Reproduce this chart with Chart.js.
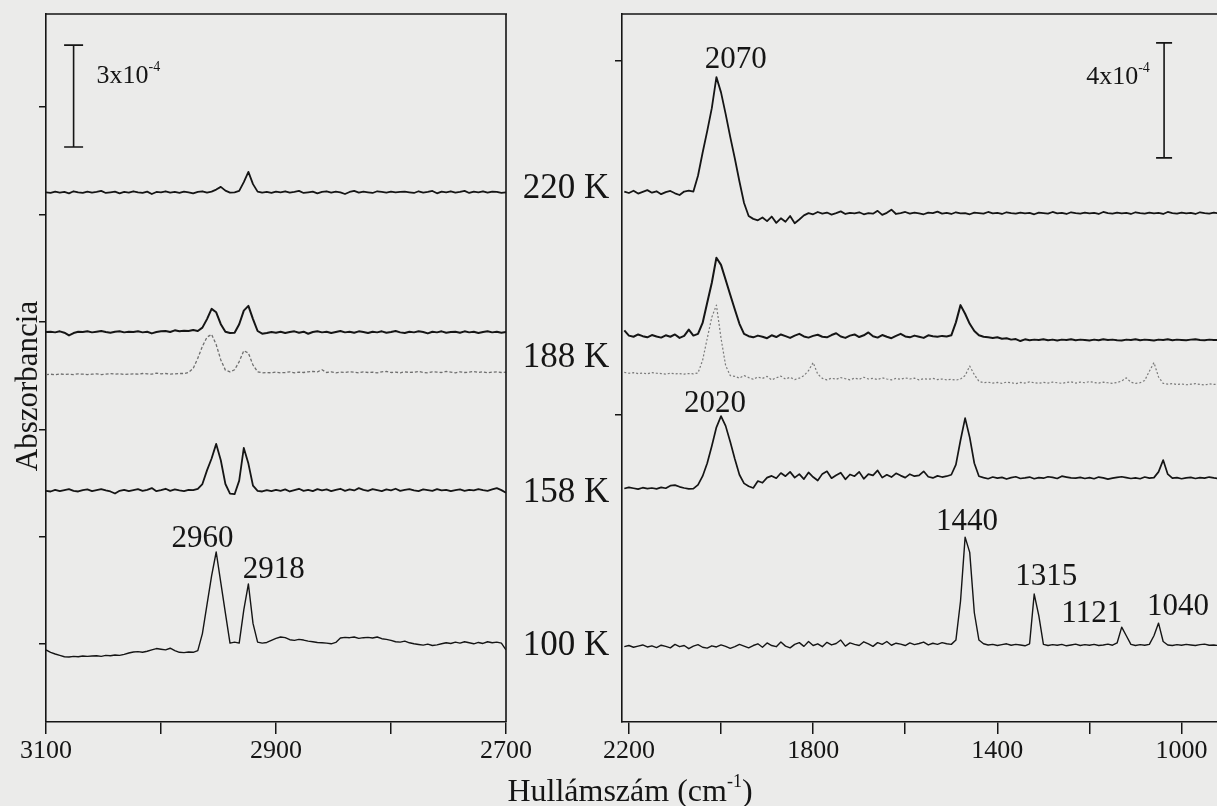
<!DOCTYPE html>
<html><head><meta charset="utf-8">
<script src="https://cdn.jsdelivr.net/npm/chart.js@4.4.1/dist/chart.umd.min.js"></script>
<style>
html,body{margin:0;padding:0;background:#ebebea;}
#wrap{position:relative;width:1217px;height:806px;overflow:hidden;background:#ebebea;}
canvas{position:absolute;left:0;top:0;}
</style></head><body>
<div id="wrap"><canvas id="cL" width="1217" height="806"></canvas><canvas id="cR" width="1217" height="806"></canvas></div>
<script>
// ---------- LEFT PANEL (3100-2700 cm-1), absorbance in 1e-4 units incl. offsets ----------
const wnL = [3100,3096,3092,3088,3084,3080,3076,3072,3068,3064,
3060,3056,3052,3048,3044,3040,3036,3032,3028,3024,
3020,3016,3012,3008,3004,3000,2996,2992,2988,2984,
2980,2976,2972,2968,2964,2960,2956,2952,2948,2944,
2940,2936,2932,2928,2924,2920,2916,2912,2908,2904,
2900,2896,2892,2888,2884,2880,2876,2872,2868,2864,
2860,2856,2852,2848,2844,2840,2836,2832,2828,2824,
2820,2816,2812,2808,2804,2800,2796,2792,2788,2784,
2780,2776,2772,2768,2764,2760,2756,2752,2748,2744,
2740,2736,2732,2728,2724,2720,2716,2712,2708,2704,
2700];
const absL220 = [15.58,15.56,15.60,15.57,15.59,15.55,15.61,15.58,15.56,15.60,
15.57,15.59,15.62,15.56,15.58,15.60,15.55,15.59,15.57,15.61,
15.58,15.56,15.60,15.53,15.59,15.58,15.61,15.57,15.59,15.56,
15.60,15.58,15.55,15.59,15.61,15.57,15.60,15.66,15.74,15.63,
15.57,15.58,15.62,15.88,16.18,15.82,15.60,15.57,15.59,15.56,
15.60,15.58,15.61,15.57,15.59,15.62,15.56,15.58,15.60,15.55,
15.59,15.61,15.57,15.60,15.58,15.53,15.59,15.62,15.57,15.60,
15.58,15.56,15.61,15.59,15.57,15.60,15.58,15.59,15.60,15.58,
15.56,15.61,15.57,15.59,15.62,15.55,15.60,15.58,15.61,15.57,
15.59,15.62,15.56,15.60,15.58,15.61,15.57,15.60,15.59,15.56,
15.58];
const absL188 = [11.47,11.48,11.46,11.49,11.45,11.37,11.44,11.48,11.47,11.49,
11.46,11.48,11.50,11.47,11.45,11.48,11.49,11.46,11.48,11.47,
11.49,11.46,11.48,11.43,11.47,11.49,11.50,11.47,11.52,11.49,
11.51,11.50,11.53,11.50,11.60,11.85,12.15,12.05,11.70,11.48,
11.44,11.45,11.70,12.10,12.24,11.85,11.50,11.42,11.44,11.47,
11.45,11.48,11.44,11.47,11.49,11.45,11.48,11.42,11.47,11.49,
11.46,11.48,11.44,11.47,11.50,11.46,11.48,11.45,11.49,11.47,
11.44,11.48,11.46,11.49,11.45,11.47,11.50,11.46,11.44,11.48,
11.46,11.49,11.47,11.43,11.48,11.46,11.49,11.45,11.47,11.48,
11.45,11.49,11.46,11.48,11.44,11.47,11.49,11.46,11.48,11.45,
11.47];
const absL188dot = [10.22,10.23,10.21,10.24,10.22,10.23,10.22,10.24,10.23,10.22,
10.23,10.24,10.22,10.23,10.25,10.23,10.24,10.22,10.23,10.24,
10.23,10.25,10.24,10.23,10.26,10.24,10.25,10.23,10.24,10.25,
10.25,10.28,10.40,10.70,11.05,11.32,11.40,11.10,10.65,10.35,
10.30,10.36,10.60,10.92,10.85,10.50,10.30,10.27,10.28,10.27,
10.29,10.27,10.28,10.30,10.27,10.29,10.28,10.30,10.31,10.30,
10.36,10.28,10.30,10.27,10.29,10.28,10.30,10.29,10.27,10.30,
10.28,10.29,10.27,10.30,10.31,10.28,10.29,10.27,10.30,10.28,
10.29,10.31,10.28,10.27,10.30,10.29,10.28,10.31,10.29,10.27,
10.30,10.28,10.29,10.31,10.28,10.30,10.27,10.29,10.30,10.28,
10.29];
const absL158 = [6.80,6.78,6.83,6.79,6.82,6.85,6.80,6.78,6.82,6.84,
6.79,6.82,6.85,6.81,6.78,6.72,6.80,6.83,6.79,6.82,
6.85,6.80,6.83,6.88,6.79,6.82,6.86,6.80,6.84,6.81,
6.79,6.83,6.82,6.86,7.00,7.40,7.75,8.18,7.70,7.00,
6.72,6.70,7.10,8.06,7.60,6.95,6.80,6.78,6.82,6.79,
6.83,6.80,6.84,6.78,6.82,6.86,6.80,6.83,6.79,6.85,
6.81,6.84,6.79,6.83,6.86,6.80,6.84,6.81,6.88,6.83,
6.80,6.85,6.82,6.79,6.84,6.81,6.86,6.80,6.83,6.85,
6.81,6.79,6.84,6.82,6.80,6.85,6.81,6.83,6.79,6.82,
6.84,6.80,6.83,6.81,6.85,6.82,6.80,6.84,6.88,6.82,
6.74];
const absL100 = [2.12,2.05,2.00,1.96,1.92,1.91,1.93,1.92,1.94,1.93,
1.94,1.95,1.93,1.96,1.95,1.97,1.96,1.99,2.03,2.06,
2.07,2.05,2.08,2.12,2.16,2.14,2.12,2.17,2.10,2.05,
2.04,2.06,2.05,2.10,2.60,3.45,4.30,5.00,4.10,3.20,
2.32,2.35,2.32,3.30,4.06,2.90,2.35,2.32,2.34,2.40,
2.46,2.50,2.48,2.42,2.40,2.43,2.41,2.38,2.36,2.34,
2.33,2.32,2.30,2.34,2.47,2.49,2.48,2.50,2.46,2.48,
2.49,2.47,2.50,2.45,2.43,2.40,2.36,2.35,2.38,2.33,
2.30,2.28,2.26,2.29,2.25,2.27,2.30,2.33,2.31,2.35,
2.32,2.36,2.33,2.30,2.34,2.31,2.36,2.33,2.35,2.32,
2.12];
const xTicksL = [3100,3000,2900,2800,2700];
const xLabelsL = [3100,2900,2700];
const yTicksL = [2.29,5.44,8.59,11.76,14.91,18.09];
const peakTextL = ['2960','2918'];
const peakAtL = [[2964,5.15],[2902,4.24]];
const barL = {wn:3076, from:16.91, to:19.91, textWn:3056, textY:18.79, base:'3x10', exp:'-4'};

// ---------- RIGHT PANEL (2200-~920 cm-1) ----------
const wnR = [2210,2200,2190,2180,2170,2160,2150,2140,2130,2120,
2110,2100,2090,2080,2070,2060,2050,2040,2030,2020,
2010,2000,1990,1980,1970,1960,1950,1940,1930,1920,
1910,1900,1890,1880,1870,1860,1850,1840,1830,1820,
1810,1800,1790,1780,1770,1760,1750,1740,1730,1720,
1710,1700,1690,1680,1670,1660,1650,1640,1630,1620,
1610,1600,1590,1580,1570,1560,1550,1540,1530,1520,
1510,1500,1490,1480,1470,1460,1450,1440,1430,1420,
1410,1400,1390,1380,1370,1360,1350,1340,1330,1320,
1310,1300,1290,1280,1270,1260,1250,1240,1230,1220,
1210,1200,1190,1180,1170,1160,1150,1140,1130,1120,
1110,1100,1090,1080,1070,1060,1050,1040,1030,1020,
1010,1000,990,980,970,960,950,940,930,920];
const absR220 = [18.45,18.40,18.48,18.38,18.44,18.50,18.41,18.46,18.36,18.43,
18.47,18.39,18.33,18.45,18.48,18.45,19.00,19.80,20.55,21.35,
22.43,21.90,21.15,20.35,19.60,18.80,18.05,17.60,17.50,17.45,
17.55,17.42,17.58,17.36,17.52,17.40,17.60,17.35,17.48,17.62,
17.70,17.66,17.74,17.68,17.72,17.65,17.70,17.76,17.67,17.71,
17.69,17.73,17.66,17.70,17.68,17.78,17.64,17.71,17.82,17.67,
17.70,17.74,17.68,17.72,17.69,17.66,17.72,17.70,17.75,17.68,
17.71,17.67,17.73,17.69,17.70,17.66,17.72,17.70,17.68,17.74,
17.69,17.71,17.67,17.73,17.70,17.68,17.72,17.69,17.71,17.66,
17.72,17.70,17.68,17.74,17.69,17.71,17.67,17.73,17.70,17.68,
17.72,17.69,17.71,17.67,17.74,17.70,17.68,17.72,17.69,17.71,
17.67,17.73,17.70,17.68,17.72,17.69,17.71,17.67,17.74,17.70,
17.68,17.72,17.69,17.71,17.67,17.73,17.70,17.68,17.72,17.69];
const absR188 = [13.62,13.44,13.40,13.48,13.42,13.38,13.46,13.41,13.37,13.45,
13.40,13.48,13.36,13.43,13.65,13.44,13.50,13.88,14.58,15.28,
16.15,15.90,15.38,14.86,14.35,13.85,13.50,13.42,13.38,13.44,
13.40,13.35,13.45,13.39,13.48,13.42,13.36,13.44,13.50,13.41,
13.37,13.43,13.47,13.40,13.38,13.46,13.52,13.41,13.36,13.44,
13.48,13.39,13.45,13.55,13.42,13.37,13.46,13.40,13.35,13.43,
13.50,13.41,13.38,13.44,13.40,13.36,13.45,13.42,13.40,13.43,
13.41,13.45,13.90,14.50,14.20,13.85,13.60,13.45,13.40,13.38,
13.36,13.38,13.33,13.35,13.30,13.32,13.25,13.31,13.28,13.30,
13.29,13.31,13.28,13.30,13.27,13.30,13.29,13.31,13.28,13.30,
13.29,13.27,13.30,13.28,13.31,13.29,13.30,13.28,13.27,13.30,
13.29,13.31,13.28,13.30,13.29,13.27,13.30,13.29,13.31,13.28,
13.30,13.29,13.28,13.30,13.31,13.29,13.28,13.30,13.29,13.28];
const absR188dot = [12.16,12.13,12.15,12.12,12.14,12.11,12.15,12.13,12.12,12.10,
12.13,12.11,12.12,12.10,12.12,12.11,12.14,12.58,13.34,14.08,
14.50,13.35,12.40,12.05,12.02,11.96,12.05,11.98,11.92,12.00,
11.95,12.02,11.90,11.97,12.03,11.93,11.99,11.91,11.96,12.05,
12.22,12.50,12.10,11.95,11.90,11.96,11.92,11.98,11.94,11.90,
11.96,11.92,11.99,11.93,11.95,11.91,11.97,11.93,11.90,11.95,
11.92,11.97,11.93,11.96,11.90,11.94,11.92,11.95,11.91,11.93,
11.90,11.92,11.89,11.93,12.05,12.38,12.08,11.85,11.80,11.82,
11.79,11.81,11.78,11.82,11.80,11.77,11.81,11.79,11.83,11.80,
11.78,11.81,11.79,11.82,11.80,11.78,11.81,11.83,11.79,11.82,
11.80,11.84,11.81,11.79,11.82,11.80,11.78,11.81,11.86,11.97,
11.82,11.78,11.80,11.88,12.20,12.50,12.00,11.78,11.75,11.77,
11.74,11.76,11.73,11.75,11.77,11.74,11.72,11.76,11.74,11.75];
const absR158 = [8.12,8.16,8.13,8.10,8.15,8.12,8.14,8.11,8.16,8.13,
8.22,8.24,8.18,8.14,8.11,8.12,8.25,8.55,9.00,9.60,
10.25,10.64,10.30,9.75,9.15,8.60,8.30,8.20,8.14,8.38,
8.32,8.50,8.56,8.48,8.66,8.55,8.70,8.50,8.62,8.45,
8.68,8.52,8.40,8.63,8.72,8.48,8.58,8.67,8.44,8.61,
8.55,8.70,8.46,8.62,8.58,8.75,8.50,8.60,8.52,8.65,
8.57,8.50,8.62,8.55,8.58,8.72,8.53,8.49,8.56,8.52,
8.55,8.60,8.95,9.80,10.57,9.90,9.00,8.55,8.50,8.46,
8.52,8.48,8.51,8.45,8.50,8.53,8.47,8.49,8.52,8.46,
8.50,8.48,8.53,8.51,8.47,8.55,8.52,8.49,8.48,8.51,
8.47,8.50,8.46,8.52,8.49,8.45,8.48,8.51,8.53,8.50,
8.47,8.49,8.46,8.52,8.48,8.50,8.70,9.11,8.62,8.48,
8.50,8.46,8.49,8.51,8.47,8.50,8.48,8.52,8.49,8.47];
const absR100 = [2.62,2.66,2.60,2.64,2.68,2.61,2.65,2.59,2.67,2.63,
2.58,2.70,2.62,2.66,2.55,2.64,2.69,2.60,2.57,2.65,
2.61,2.68,2.63,2.56,2.62,2.70,2.64,2.58,2.66,2.72,
2.60,2.75,2.66,2.62,2.78,2.64,2.58,2.70,2.76,2.63,
2.80,2.66,2.72,2.62,2.77,2.68,2.73,2.85,2.64,2.75,
2.70,2.66,2.79,2.72,2.63,2.76,2.70,2.80,2.67,2.74,
2.71,2.66,2.75,2.69,2.73,2.78,2.68,2.74,2.70,2.76,
2.72,2.70,2.85,4.20,6.43,5.90,3.80,2.85,2.72,2.68,
2.70,2.66,2.69,2.72,2.67,2.70,2.68,2.65,2.72,4.45,
3.70,2.70,2.66,2.69,2.67,2.70,2.65,2.68,2.71,2.66,
2.69,2.67,2.70,2.66,2.68,2.71,2.67,2.75,3.30,3.00,
2.70,2.66,2.69,2.67,2.70,3.00,3.44,2.80,2.68,2.66,
2.69,2.67,2.70,2.68,2.66,2.69,2.71,2.67,2.68,2.66];
const xTicksR = [2200,2000,1800,1600,1400,1200,1000];
const xLabelsR = [2200,1800,1400,1000];
const yTicksR = [10.68,23.0];
const peakTextR = ['2070','2020','1440','1315','1121','1040'];
const peakAtR = [[1968,22.75],[2013,10.78],[1466,6.68],[1294,4.77],[1195,3.48],[1008,3.72]];
const tempText = ['220 K','188 K','158 K','100 K'];
const tempLevelR = [18.23,12.35,7.65,2.33];
const barR = {wn:1038, from:19.62, to:23.62, textWn:1069, textY:22.19, base:'4x10', exp:'-4'};

// ---------- styling ----------
const FONT = '"Liberation Serif","Times New Roman","DejaVu Serif",serif';
const INK = '#151515';

function trace(xs, ys, w, color, dash){
  return {data: xs.map((x,i)=>({x:x, y:ys[i]})), borderColor: color, borderWidth: w,
    borderDash: dash || [], pointRadius: 0, fill: false, tension: 0, borderJoinStyle: 'round'};
}
function supText(ctx, parts, x, y, size, align){
  // parts: [base, exp, tail]
  const es = Math.round(size*0.55);
  ctx.font = size+'px '+FONT; const wb = ctx.measureText(parts[0]).width;
  const wt = parts[2] ? ctx.measureText(parts[2]).width : 0;
  ctx.font = es+'px '+FONT; const we = ctx.measureText(parts[1]).width;
  const tot = wb+we+wt;
  let x0 = align==='right' ? x-tot : (align==='center' ? x-tot/2 : x);
  ctx.textAlign='left'; ctx.textBaseline='alphabetic';
  ctx.font = size+'px '+FONT; ctx.fillText(parts[0], x0, y);
  ctx.font = es+'px '+FONT; ctx.fillText(parts[1], x0+wb, y-size*0.45);
  if (parts[2]) { ctx.font = size+'px '+FONT; ctx.fillText(parts[2], x0+wb+we, y); }
}
function drawBar(ctx, xs, ys, bar, cap, size, align){
  const x = xs.getPixelForValue(bar.wn);
  const y0 = ys.getPixelForValue(bar.from), y1 = ys.getPixelForValue(bar.to);
  ctx.strokeStyle = INK; ctx.lineWidth = 1.6;
  ctx.beginPath();
  ctx.moveTo(x, y0); ctx.lineTo(x, y1);
  ctx.moveTo(x-cap, y0); ctx.lineTo(x+cap, y0);
  ctx.moveTo(x-cap, y1); ctx.lineTo(x+cap, y1);
  ctx.stroke();
  supText(ctx, [bar.base, bar.exp], xs.getPixelForValue(bar.textWn), ys.getPixelForValue(bar.textY), size, align);
}
function framePlugin(showRight){
  return {id:'frame', afterDatasetsDraw(chart){
    const c = chart.ctx, a = chart.chartArea;
    c.save(); c.strokeStyle = INK; c.lineWidth = 1.6; c.beginPath();
    c.moveTo(a.left, a.top); c.lineTo(a.right+1, a.top);
    if (showRight){ c.moveTo(a.right, a.top); c.lineTo(a.right, a.bottom); }
    c.stroke(); c.restore();
  }};
}
function baseOptions(xmin, xmax, xTicks, xLabels, ymax, yTicks, pad){
  return {
    responsive:false, animation:false, devicePixelRatio:1,
    layout:{padding:pad},
    plugins:{legend:{display:false}, tooltip:{enabled:false}},
    scales:{
      x:{type:'linear', min:xmin, max:xmax, reverse:true,
        afterFit: s => { s.height = 84; },
        afterBuildTicks: s => { s.ticks = xTicks.map(v => ({value:v})); },
        ticks:{autoSkip:false, maxRotation:0, padding:2, color:INK, font:{family:FONT, size:26},
          callback: v => xLabels.includes(v) ? String(v) : ''},
        grid:{drawOnChartArea:false, drawTicks:true, tickLength:12, color:INK, lineWidth:1.5},
        border:{display:true, color:INK, width:1.6}},
      y:{type:'linear', min:0, max:ymax,
        afterFit: s => { s.width = 10; },
        afterBuildTicks: s => { s.ticks = yTicks.map(v => ({value:v})); },
        ticks:{display:false},
        grid:{drawOnChartArea:false, drawTicks:true, tickLength:7, color:INK, lineWidth:1.5},
        border:{display:true, color:INK, width:1.6}}
    }
  };
}

// ---------- left chart ----------
new Chart(document.getElementById('cL'), {
  type:'line',
  data:{datasets:[
    trace(wnL, absL220, 1.8, INK),
    trace(wnL, absL188, 2.0, INK),
    trace(wnL, absL188dot, 1.3, '#6f6f6f', [3,2]),
    trace(wnL, absL158, 1.8, INK),
    trace(wnL, absL100, 1.4, INK)
  ]},
  options: baseOptions(2700, 3100, xTicksL, xLabelsL, 20.824, yTicksL, {left:36, top:14, right:711, bottom:0}),
  plugins:[framePlugin(true), {id:'annL', afterDraw(chart){
    const c = chart.ctx, xs = chart.scales.x, ys = chart.scales.y;
    c.save(); c.fillStyle = INK;
    c.font = '31px '+FONT; c.textAlign='center'; c.textBaseline='alphabetic';
    peakTextL.forEach((t,i) => c.fillText(t, xs.getPixelForValue(peakAtL[i][0]), ys.getPixelForValue(peakAtL[i][1])));
    drawBar(c, xs, ys, barL, 9.5, 26, 'left');
    // axis titles
    c.fillStyle = INK;
    supText(c, ['Hullámszám (cm', '-1', ')'], 630, 801, 32, 'center');
    c.save(); c.translate(37, 386); c.rotate(-Math.PI/2);
    c.font = '31px '+FONT; c.textAlign='center'; c.textBaseline='alphabetic';
    c.fillText('Abszorbancia', 0, 0); c.restore();
    c.restore();
  }}]
});

// ---------- right chart ----------
new Chart(document.getElementById('cR'), {
  type:'line',
  data:{datasets:[
    trace(wnR, absR220, 1.8, INK),
    trace(wnR, absR188, 2.0, INK),
    trace(wnR, absR188dot, 1.2, '#7a7a7a', [2,2]),
    trace(wnR, absR158, 1.7, INK),
    trace(wnR, absR100, 1.4, INK)
  ]},
  options: baseOptions(923.1, 2215, xTicksR, xLabelsR, 24.626, yTicksR, {left:612, top:14, right:0, bottom:0}),
  plugins:[framePlugin(false), {id:'annR', afterDraw(chart){
    const c = chart.ctx, xs = chart.scales.x, ys = chart.scales.y, a = chart.chartArea;
    c.save(); c.fillStyle = INK;
    c.font = '31px '+FONT; c.textAlign='center'; c.textBaseline='alphabetic';
    peakTextR.forEach((t,i) => c.fillText(t, xs.getPixelForValue(peakAtR[i][0]), ys.getPixelForValue(peakAtR[i][1])));
    c.font = '35px '+FONT; c.textAlign='center';
    tempText.forEach((t,i) => c.fillText(t, a.left-56, ys.getPixelForValue(tempLevelR[i])));
    drawBar(c, xs, ys, barR, 8, 26, 'right');
    c.restore();
  }}]
});
</script>
</body></html>
